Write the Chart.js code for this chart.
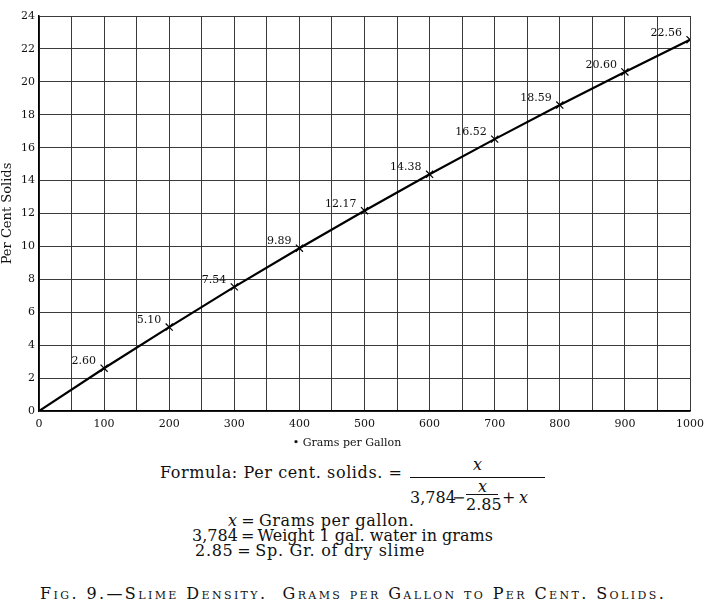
<!DOCTYPE html>
<html>
<head>
<meta charset="utf-8">
<script src="https://cdn.jsdelivr.net/npm/chart.js@4/dist/chart.umd.min.js"></script>
<style>
  body { margin: 0; background: #fff; font-family: "DejaVu Serif", serif; color: #111; }
  #wrap { position: relative; width: 717px; height: 611px; }
  #chartBox { position: absolute; left: 0; top: 0; width: 717px; height: 450px; }
  .t { position: absolute; white-space: nowrap; font-size: 16px; line-height: 16px; }
  i { font-style: italic; }
  .bar { position: absolute; height: 0; border-top: 1px solid #111; }
  .sc { font-variant: small-caps; }
</style>
</head>
<body>
<div id="wrap">
  <div id="chartBox"><canvas id="GraficoSlime"></canvas></div>

  <!-- formula -->
  <div class="t" style="left:160px; top:465px; letter-spacing:0.6px;">Formula: Per cent. solids. =</div>
  <div class="bar" style="left:410px; top:477px; width:135px;"></div>
  <div class="t" style="left:473px; top:457px;"><i>x</i></div>
  <div class="t" style="left:410px; top:490px;">3,784</div>
  <div class="t" style="left:452px; top:490px;">&minus;</div>
  <div class="bar" style="left:466px; top:494px; width:32px;"></div>
  <div class="t" style="left:478px; top:479px;"><i>x</i></div>
  <div class="t" style="left:466px; top:497px;">2.85</div>
  <div class="t" style="left:502px; top:490px;">+</div>
  <div class="t" style="left:519px; top:490px;"><i>x</i></div>

  <div class="t" style="left:228px; top:513px; letter-spacing:0.55px;"><i>x</i>&thinsp;=&thinsp;Grams per gallon.</div>
  <div class="t" style="left:192px; top:528px;">3,784&thinsp;=&thinsp;Weight 1 gal. water in grams</div>
  <div class="t" style="left:195px; top:543px; letter-spacing:0.7px;">2.85&thinsp;=&thinsp;Sp. Gr. of dry slime</div>
  <div class="t sc" style="left:40px; top:586px; letter-spacing:2.4px;">Fig. 9.&mdash;Slime Density.&nbsp; Grams per Gallon to Per Cent. Solids.</div>
</div>

<script>
// valores
const gramas = [0, 100, 200, 300, 400, 500, 600, 700, 800, 900, 1000];
const solidos = [0, 2.60, 5.10, 7.54, 9.89, 12.17, 14.38, 16.52, 18.59, 20.60, 22.56];
const rotulos = ['', '2.60', '5.10', '7.54', '9.89', '12.17', '14.38', '16.52', '18.59', '20.60', '22.56'];

const fonte = '"DejaVu Serif", serif';

// escreve o valor ao lado de cada ponto
const rotulosPlugin = {
    id: 'rotulos',
    afterDatasetsDraw: function (chart) {
        const ctx = chart.ctx;
        const meta = chart.getDatasetMeta(0);
        ctx.save();
        ctx.font = '11px ' + fonte;
        ctx.fillStyle = '#111';
        ctx.textAlign = 'right';
        ctx.textBaseline = 'middle';
        meta.data.forEach(function (p, i) {
            if (!rotulos[i]) return;
            ctx.fillText(rotulos[i], p.x - 8, p.y - 7);
        });
        ctx.restore();
    }
};

new Chart(document.getElementById("GraficoSlime"), {
    type: 'line',
    data: {
        datasets: [{
            label: "Per Cent Solids",
            data: gramas.map(function (g, i) { return { x: g, y: solidos[i] }; }),
            borderColor: "#000",
            borderWidth: 2.2,
            backgroundColor: "#000",
            pointStyle: 'crossRot',
            pointRadius: gramas.map(function (g) { return g === 0 ? 0 : 5; }),
            pointBorderWidth: 1.2,
            pointBorderColor: "#000",
            fill: false,
            tension: 0
        }]
    },
    plugins: [rotulosPlugin],
    options: {
        responsive: true,
        maintainAspectRatio: false,
        animation: false,
        layout: { padding: { top: 16, right: 27, left: 0, bottom: 0 } },
        plugins: {
            legend: { display: false },
            tooltip: { enabled: false }
        },
        scales: {
            x: {
                type: 'linear',
                min: 0,
                max: 1000,
                afterFit: function (s) { s.height = 39; },
                grid: { color: '#3a3a3a', lineWidth: 1, drawTicks: false },
                border: { color: '#000', width: 1.5 },
                ticks: {
                    stepSize: 50,
                    autoSkip: false,
                    maxRotation: 0,
                    padding: 7,
                    color: '#111',
                    font: { family: fonte, size: 11 },
                    callback: function (v) { return v % 100 === 0 ? v : ''; }
                },
                title: {
                    display: true,
                    // espacos no fim empurram o titulo um pouco para a esquerda
                    text: '\u2022 Grams per Gallon\u00a0\u00a0\u00a0\u00a0\u00a0\u00a0\u00a0\u00a0\u00a0\u00a0',
                    color: '#111',
                    padding: { top: 0, bottom: 0 },
                    font: { family: fonte, size: 11 }
                }
            },
            y: {
                min: 0,
                max: 24,
                afterFit: function (s) { s.width = 39; },
                grid: { color: '#3a3a3a', lineWidth: 1, drawTicks: false },
                border: { color: '#000', width: 1.5 },
                ticks: {
                    stepSize: 2,
                    padding: 4,
                    color: '#111',
                    font: { family: fonte, size: 11 }
                },
                title: {
                    display: true,
                    text: 'Per Cent Solids',
                    color: '#111',
                    padding: { top: 0, bottom: 0 },
                    font: { family: fonte, size: 13 }
                }
            }
        }
    }
});
</script>
</body>
</html>
